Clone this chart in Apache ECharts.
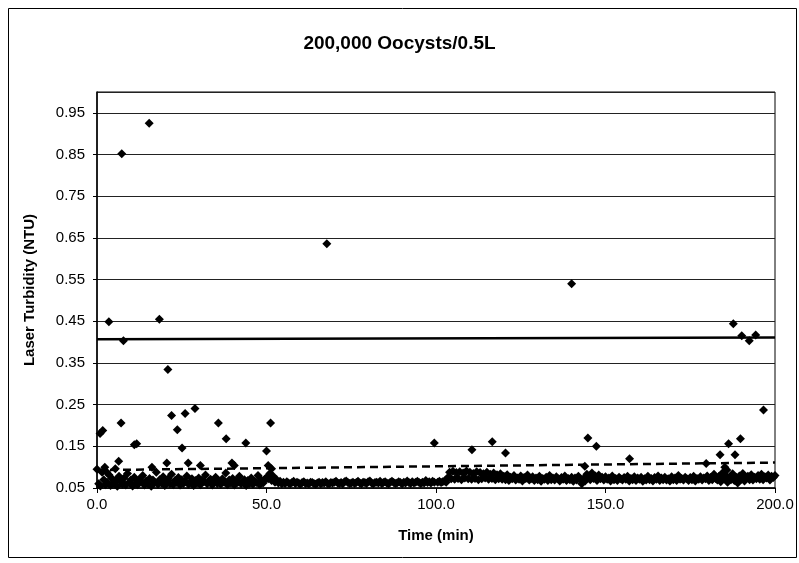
<!DOCTYPE html>
<html>
<head>
<meta charset="utf-8">
<script src="https://cdn.jsdelivr.net/npm/echarts@6/dist/echarts.min.js"></script>
<style>
html,body{margin:0;padding:0;background:#fff;}
#chart{width:799px;height:563px;}
</style>
</head>
<body>
<div id="chart"></div>
<script>
// ---------- DATA ----------
const titleText = "200,000 Oocysts/0.5L";
const xAxisName = "Time (min)";
const yAxisName = "Laser Turbidity (NTU)";
const xTicks = [0, 50, 100, 150, 200];
const yTicks = [0.05, 0.15, 0.25, 0.35, 0.45, 0.55, 0.65, 0.75, 0.85, 0.95];

// baseline readings, sampled every 0.5 min
const sampleStep = 0.5;
// t = 0 .. 50
const segAStart = 0;
const segA = [
0.095,0.060,0.055,0.088,0.070,0.058,0.064,0.082,0.056,0.072,
0.061,0.068,0.054,0.078,0.066,0.059,0.074,0.057,0.085,0.063,
0.069,0.055,0.076,0.062,0.058,0.071,0.065,0.080,0.057,0.067,
0.060,0.073,0.054,0.069,0.064,0.088,0.059,0.070,0.062,0.077,
0.056,0.066,0.072,0.060,0.083,0.058,0.068,0.063,0.075,0.057,
0.070,0.061,0.066,0.079,0.059,0.064,0.072,0.056,0.068,0.062,
0.074,0.058,0.069,0.065,0.081,0.060,0.067,0.071,0.057,0.063,
0.076,0.061,0.066,0.059,0.072,0.064,0.086,0.058,0.069,0.062,
0.073,0.057,0.067,0.063,0.078,0.060,0.065,0.070,0.056,0.068,
0.061,0.074,0.059,0.066,0.063,0.080,0.058,0.069,0.062,0.071,
0.075];
// t = 50.5 .. 100
const segBStart = 50.5;
const segB = [
0.072,0.085,0.068,0.078,0.064,0.070,0.062,0.066,0.060,0.064,
0.061,0.065,0.062,0.060,0.063,0.066,0.061,0.064,0.062,0.059,
0.063,0.065,0.061,0.062,0.060,0.064,0.063,0.061,0.059,0.062,
0.064,0.060,0.063,0.062,0.065,0.061,0.060,0.063,0.062,0.064,
0.066,0.062,0.061,0.063,0.060,0.065,0.067,0.063,0.061,0.062,
0.064,0.061,0.063,0.066,0.062,0.060,0.064,0.063,0.061,0.065,
0.067,0.062,0.060,0.063,0.064,0.062,0.066,0.061,0.063,0.065,
0.062,0.060,0.064,0.066,0.063,0.061,0.062,0.065,0.063,0.060,
0.064,0.062,0.067,0.063,0.061,0.065,0.062,0.064,0.066,0.063,
0.061,0.064,0.062,0.068,0.063,0.065,0.062,0.066,0.064];
// t = 100.5 .. 119.5
const segCStart = 100.5;
const segC = [
0.064,0.066,0.063,0.065,0.067,0.064,0.075,0.088,0.072,0.090,
0.071,0.087,0.073,0.089,0.070,0.086,0.074,0.091,0.072,0.088,
0.071,0.085,0.073,0.089,0.070,0.087,0.072,0.084,0.074,0.088,
0.071,0.083,0.073,0.086,0.070,0.082,0.072,0.084,0.071];
// t = 120 .. 200
const segDStart = 120;
const segD = [
0.078,0.070,0.082,0.068,0.076,0.072,0.080,0.069,0.074,0.071,
0.079,0.067,0.075,0.073,0.081,0.069,0.072,0.077,0.068,0.074,
0.070,0.078,0.066,0.073,0.071,0.076,0.068,0.080,0.070,0.074,
0.069,0.077,0.072,0.067,0.075,0.071,0.079,0.068,0.073,0.070,
0.076,0.066,0.074,0.069,0.078,0.071,0.060,0.072,0.067,0.083,
0.075,0.070,0.086,0.073,0.079,0.068,0.081,0.072,0.076,0.069,
0.077,0.071,0.074,0.067,0.079,0.070,0.073,0.068,0.076,0.072,
0.069,0.075,0.071,0.078,0.067,0.073,0.070,0.077,0.068,0.074,
0.071,0.076,0.066,0.072,0.069,0.078,0.070,0.073,0.067,0.075,
0.071,0.079,0.068,0.074,0.070,0.076,0.069,0.072,0.067,0.077,
0.070,0.074,0.068,0.080,0.071,0.073,0.069,0.076,0.072,0.068,
0.075,0.070,0.078,0.067,0.073,0.071,0.077,0.069,0.074,0.072,
0.079,0.068,0.075,0.070,0.083,0.073,0.069,0.078,0.065,0.086,
0.072,0.080,0.064,0.074,0.070,0.084,0.068,0.076,0.062,0.079,
0.071,0.085,0.067,0.073,0.078,0.070,0.082,0.069,0.076,0.072,
0.080,0.071,0.083,0.070,0.077,0.074,0.081,0.069,0.078,0.075,
0.080];

// spike readings (time, NTU)
const spikeTime = [0.9,1.7,3.5,7.3,7.8,15.4,18.4,20.9,7.1,11.0,11.7,22.0,23.7,26.0,28.9,25.1,
  35.8,38.1,43.9,51.2,50.0,2.3,2.9,5.4,6.4,16.2,20.6,26.9,30.5,39.8,40.5,50.5,51.5,
  67.8,99.5,110.6,116.6,120.5,140.0,144.8,147.3,143.9,157.1,179.7,183.8,185.2,185.8,186.3,
  187.7,188.2,189.8,190.2,192.4,194.3,196.6];
const spikeValue = [0.181,0.188,0.449,0.852,0.403,0.925,0.455,0.334,0.206,0.154,0.156,0.224,0.190,0.229,0.241,0.146,
  0.206,0.168,0.158,0.206,0.139,0.100,0.088,0.096,0.114,0.100,0.110,0.110,0.104,0.110,0.104,0.104,0.096,
  0.636,0.158,0.142,0.161,0.134,0.540,0.170,0.150,0.102,0.120,0.109,0.130,0.100,0.093,0.156,
  0.444,0.130,0.168,0.415,0.403,0.417,0.237];

// reference lines
const refLineTime = [0, 200];
const solidLineValue = [0.407, 0.411];
const dashedLineValue = [0.093, 0.111];

// ---------- BUILD ----------
function seg(start, vals) {
  return vals.map((v, i) => [start + i * sampleStep, v]);
}
const baseData = [].concat(seg(segAStart, segA), seg(segBStart, segB), seg(segCStart, segC), seg(segDStart, segD));
const spikeData = spikeTime.map((t, i) => [t, spikeValue[i]]);
const solidData = refLineTime.map((t, i) => [t, solidLineValue[i]]);
const dashedData = refLineTime.map((t, i) => [t, dashedLineValue[i]]);

const FONT = "'Liberation Sans', Arial, sans-serif";
const chart = echarts.init(document.getElementById('chart'), null, {renderer: 'canvas'});
chart.setOption({
  animation: false,
  backgroundColor: '#fff',
  title: {
    text: titleText, left: 'center', top: 29,
    textStyle: {fontFamily: FONT, fontSize: 19, fontWeight: 'bold', color: '#000'}
  },
  graphic: [{
    type: 'rect', shape: {x: 8.5, y: 8.5, width: 788, height: 549},
    style: {fill: 'none', stroke: '#000', lineWidth: 1}, z: -1
  }],
  grid: {left: 97, right: 24, top: 92, bottom: 75, show: true, borderColor: '#000', borderWidth: 1, backgroundColor: 'transparent'},
  xAxis: {
    type: 'value', min: xTicks[0], max: xTicks[xTicks.length - 1], interval: 50,
    name: xAxisName, nameLocation: 'middle', nameGap: 40,
    nameTextStyle: {fontFamily: FONT, fontSize: 15, fontWeight: 'bold', color: '#000'},
    axisLine: {show: true, lineStyle: {color: '#000', width: 1.5}},
    axisTick: {show: true, length: 5, inside: false, lineStyle: {color: '#000'}},
    axisLabel: {fontFamily: FONT, fontSize: 15, color: '#000', margin: 9,
      formatter: v => v.toFixed(1)},
    splitLine: {show: false}
  },
  yAxis: {
    type: 'value', min: 0.05, max: 1.0, interval: 0.1,
    name: yAxisName, nameLocation: 'middle', nameGap: 60, nameRotate: 90,
    nameTextStyle: {fontFamily: FONT, fontSize: 15, fontWeight: 'bold', color: '#000'},
    axisLine: {show: true, lineStyle: {color: '#000', width: 1.5}},
    axisTick: {show: true, length: 4, lineStyle: {color: '#000'}},
    axisLabel: {fontFamily: FONT, fontSize: 15, color: '#000', margin: 12, showMaxLabel: false,
      formatter: v => (v > 0.97 ? '' : v.toFixed(2))},
    splitLine: {show: true, lineStyle: {color: '#222', width: 1}}
  },
  series: [
    {type: 'scatter', data: baseData, symbol: 'diamond', symbolSize: 9,
      itemStyle: {color: '#000', opacity: 1}, silent: true},
    {type: 'scatter', data: spikeData, symbol: 'diamond', symbolSize: 9,
      itemStyle: {color: '#000', opacity: 1}, silent: true},
    {type: 'line', data: solidData, showSymbol: false, symbol: 'none',
      lineStyle: {color: '#000', width: 2.5, type: 'solid'}, silent: true, z: 3},
    {type: 'line', data: dashedData, showSymbol: false, symbol: 'none',
      lineStyle: {color: '#000', width: 2.5, type: [8, 5]}, silent: true, z: 3}
  ]
});
</script>
</body>
</html>
